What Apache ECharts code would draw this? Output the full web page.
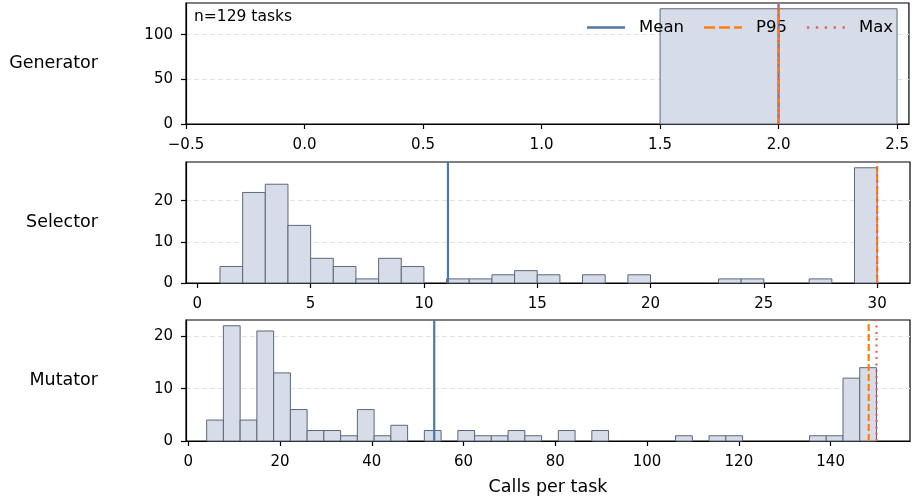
<!DOCTYPE html>
<html>
<head>
<meta charset="utf-8">
<script src="https://cdn.jsdelivr.net/npm/echarts@6/dist/echarts.min.js"></script>
<style>
html,body{margin:0;padding:0;background:#fff;}
#chart{width:912px;height:499px;}
</style>
</head>
<body>
<div id="chart"></div>
<script>
// ---- data ----
const panelNames = ['Generator', 'Selector', 'Mutator'];
const nTasks = 129;

// Generator: one bin [1.5, 2.5]
const genBinStart = 1.5;
const genBinWidth = 1.0;
const genCounts = [129];
const genStats = { mean: 2.0, p95: 2.0, max: 2.0 };
const genXTicks = [-0.5, 0.0, 0.5, 1.0, 1.5, 2.0, 2.5];
const genYTicks = [0, 50, 100];

// Selector: bins of width 1 from 1 to 30
const selBinStart = 1;
const selBinWidth = 1;
const selCounts = [4, 22, 24, 14, 6, 4, 1, 6, 4, 0, 1, 1, 2, 3, 2, 0, 2, 0, 2, 0, 0, 0, 1, 1, 0, 0, 1, 0, 28];
const selStats = { mean: 11.06, p95: 30, max: 30 };
const selXTicks = [0, 5, 10, 15, 20, 25, 30];
const selYTicks = [0, 10, 20];

// Mutator: 40 bins from 4 to 150
const mutBinStart = 4;
const mutBinWidth = 3.65;
const mutCounts = [4, 22, 4, 21, 13, 6, 2, 2, 1, 6,
                   1, 3, 0, 2, 0, 2, 1, 1, 2, 1,
                   0, 2, 0, 2, 0, 0, 0, 0, 1, 0,
                   1, 1, 0, 0, 0, 0, 1, 1, 12, 14];
const mutStats = { mean: 53.6, p95: 148.3, max: 150 };
const mutXTicks = [0, 20, 40, 60, 80, 100, 120, 140];
const mutYTicks = [0, 10, 20];

const xLabel = 'Calls per task';
const statNames = ['Mean', 'P95', 'Max'];

// ---- build ----
const FONT = 'DejaVu Sans';
const BAR_FILL = '#d6dce8';
const BAR_EDGE = '#5d677b';
const statStyles = {
  Mean: { color: '#4c78a8', width: 2.2, dash: null,
          icon: 'path://M0,0h38v2.4h-38z' },
  P95:  { color: '#ff7f0e', width: 2.2, dash: [7, 3],
          icon: 'path://M0,0h11v2.4h-11z M15,0h11v2.4h-11z M30,0h8v2.4h-8z' },
  Max:  { color: '#e8605f', width: 2.2, dash: [2, 4.3],
          icon: 'path://M0,0h2.4v2.4h-2.4z M8.9,0h2.4v2.4h-2.4z M17.8,0h2.4v2.4h-2.4z M26.7,0h2.4v2.4h-2.4z M35.6,0h2.4v2.4h-2.4z' }
};

function binsOf(start, width, counts) {
  return counts.map((c, i) => [start + i * width, start + (i + 1) * width, c]);
}

const panels = [
  { bins: binsOf(genBinStart, genBinWidth, genCounts), stats: genStats, xt: genXTicks, yt: genYTicks,
    xmin: -0.5, xmax: (genBinStart + genBinWidth) + 0.05 * genBinWidth * genCounts.length,
    fmt: v => v.toFixed(1).replace('-', '\u2212') },
  { bins: binsOf(selBinStart, selBinWidth, selCounts), stats: selStats, xt: selXTicks, yt: selYTicks,
    xmin: -0.5, xmax: (selBinStart + selBinWidth * selCounts.length) + 0.05 * selBinWidth * selCounts.length,
    fmt: v => String(v) },
  { bins: binsOf(mutBinStart, mutBinWidth, mutCounts), stats: mutStats, xt: mutXTicks, yt: mutYTicks,
    xmin: -0.5, xmax: (mutBinStart + mutBinWidth * mutCounts.length) + 0.05 * mutBinWidth * mutCounts.length,
    fmt: v => String(v) }
];
const countsList = [genCounts, selCounts, mutCounts];

const gridTops = [3, 162, 320];
const gridH = 121;

const grids = [], xAxes = [], yAxes = [], series = [];
panels.forEach((p, i) => {
  grids.push({ left: 186, right: 2, top: gridTops[i], height: gridH, show: true,
    borderColor: '#000', borderWidth: 1.2, backgroundColor: 'transparent', containLabel: false });
  xAxes.push({
    type: 'value', gridIndex: i, min: p.xmin, max: p.xmax,
    axisLine: { show: true, onZero: false, lineStyle: { color: '#000', width: 1.2 } },
    axisTick: { show: true, length: 5, lineStyle: { color: '#000', width: 1.2 }, customValues: p.xt },
    axisLabel: { show: true, customValues: p.xt, formatter: p.fmt, margin: 14,
      color: '#000', fontFamily: FONT, fontSize: 15 },
    splitLine: { show: false },
    name: i === 2 ? xLabel : '', nameLocation: 'middle', nameGap: 37,
    nameTextStyle: { color: '#000', fontFamily: FONT, fontSize: 17.5 }
  });
  const ymax = Math.max(...countsList[i]) * 1.05;
  yAxes.push({
    type: 'value', gridIndex: i, min: 0, max: ymax,
    axisLine: { show: true, onZero: false, lineStyle: { color: '#000', width: 1.2 } },
    axisTick: { show: true, length: 5, lineStyle: { color: '#000', width: 1.2 }, customValues: p.yt },
    axisLabel: { show: true, customValues: p.yt, margin: 13, color: '#000', fontFamily: FONT, fontSize: 15 },
    splitLine: { show: true, lineStyle: { color: '#e3e3e3', width: 1, type: [5, 3] } },
    interval: p.yt[1] - p.yt[0],
    name: panelNames[i], nameLocation: 'middle', nameRotate: 0, nameGap: 88,
    nameTextStyle: { color: '#000', fontFamily: FONT, fontSize: 17.5, align: 'right', verticalAlign: 'middle' }
  });
  series.push({
    type: 'custom', xAxisIndex: i, yAxisIndex: i, z: 2, silent: true,
    data: p.bins.filter(b => b[2] > 0),
    encode: { x: [0, 1], y: 2 },
    renderItem: (params, api) => {
      const a = api.coord([api.value(0), api.value(2)]);
      const b = api.coord([api.value(1), 0]);
      return { type: 'rect',
        shape: { x: a[0], y: a[1], width: b[0] - a[0], height: b[1] - a[1] },
        style: { fill: BAR_FILL, stroke: BAR_EDGE, lineWidth: 1, opacity: 1 } };
    }
  });
  statNames.forEach((nm, k) => {
    const key = nm === 'Mean' ? 'mean' : (nm === 'P95' ? 'p95' : 'max');
    const st = statStyles[nm];
    const yr = [0, ymax];
    // vertical reference line drawn through the axis scales
    series.push({
      type: 'custom', xAxisIndex: i, yAxisIndex: i, z: 5 + k, silent: true,
      data: [[p.stats[key]]],
      encode: { x: 0 },
      renderItem: (params, api) => {
        const a = api.coord([api.value(0), yr[0]]);
        const b = api.coord([api.value(0), yr[1]]);
        return { type: 'line', shape: { x1: a[0], y1: a[1], x2: b[0], y2: b[1] },
          style: { stroke: st.color, lineWidth: st.width, lineDash: st.dash, fill: null } };
      }
    });
    // legend carrier (no data)
    if (i === 0) {
      series.push({
        type: 'line', name: nm, xAxisIndex: i, yAxisIndex: i, data: [], symbol: 'none', silent: true,
        lineStyle: { color: st.color, width: st.width },
        itemStyle: { color: st.color }
      });
    }
  });
});

const chart = echarts.init(document.getElementById('chart'), null, { renderer: 'canvas' });
chart.setOption({
  animation: false,
  backgroundColor: '#fff',
  title: { text: 'n=' + nTasks + ' tasks', left: 189, top: 4,
    textStyle: { fontFamily: FONT, fontSize: 15.5, fontWeight: 'normal', color: '#000' } },
  legend: {
    left: 582, top: 14, itemWidth: 38, itemHeight: 2.4, itemGap: 20,
    selectedMode: false, symbolKeepAspect: false,
    data: statNames.map(nm => ({ name: nm, icon: statStyles[nm].icon,
      itemStyle: { color: statStyles[nm].color, borderWidth: 0 } })),
    textStyle: { fontFamily: FONT, fontSize: 16.5, color: '#000', padding: [0, 0, 0, 9] } },
  grid: grids, xAxis: xAxes, yAxis: yAxes, series: series
});
</script>
</body>
</html>
